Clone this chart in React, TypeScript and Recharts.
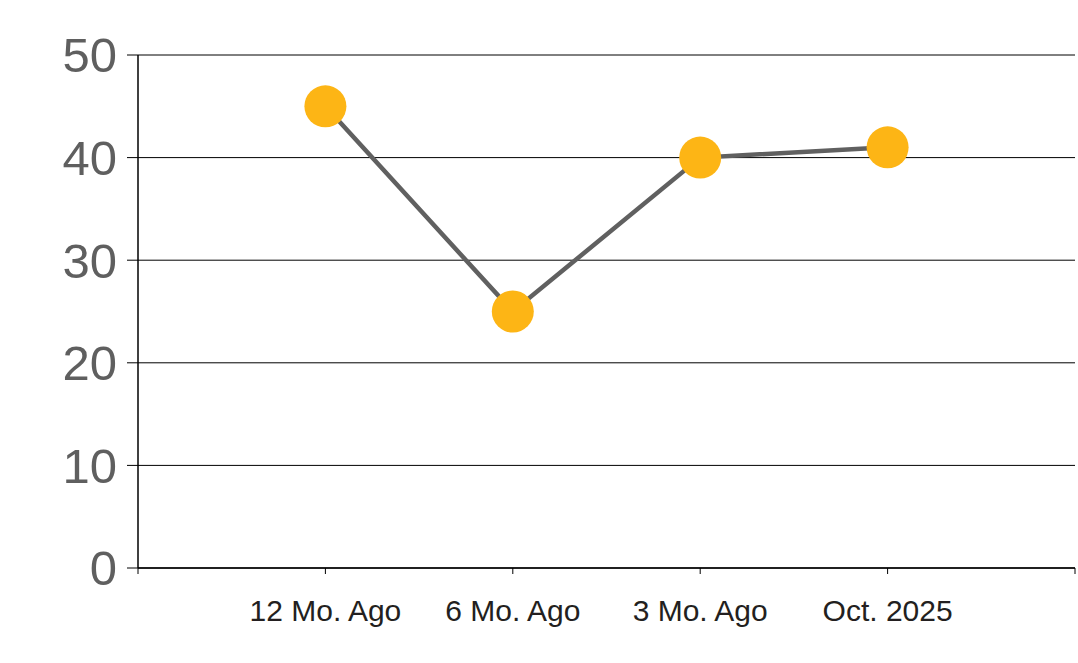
import React from 'react';
import { LineChart, Line, XAxis, YAxis, CartesianGrid } from 'recharts';

const categories = ['12 Mo. Ago', '6 Mo. Ago', '3 Mo. Ago', 'Oct. 2025'];
const values = [45, 25, 40, 41];
const yTicks = [0, 10, 20, 30, 40, 50];
const xTicks = [0, 1, 2, 3, 4, 5];

const data = categories.map((c, i) => ({ x: i + 1, name: c, value: values[i] }));

const fmtX = (v: number) => (v >= 1 && v <= categories.length ? categories[v - 1] : '');

export default function App() {
  return (
    <div style={{ position: 'absolute', left: 0, top: 0, background: '#fff' }}>
      <LineChart
        width={1078}
        height={663}
        data={data}
        margin={{ top: 55, right: 3, bottom: 0, left: 0 }}
        style={{ fontFamily: '"Liberation Sans", Arial, sans-serif' }}
      >
        <CartesianGrid vertical={false} stroke="#000" strokeWidth={1} />
        <XAxis
          dataKey="x"
          type="number"
          domain={[0, 5]}
          ticks={xTicks}
          tickFormatter={fmtX}
          interval={0}
          height={95}
          stroke="#000"
          tickSize={6}
          tickMargin={26}
          tick={{ fontSize: 30, fill: '#231f20' }}
          tickLine={{ stroke: '#000' }}
          axisLine={{ stroke: '#000', strokeWidth: 1.5 }}
        />
        <YAxis
          domain={[0, 50]}
          ticks={yTicks}
          width={138}
          tickSize={11}
          tickMargin={10}
          interval={0}
          tick={{ fontSize: 49, fill: '#5f5f5f' }}
          tickLine={{ stroke: '#000' }}
          axisLine={{ stroke: '#000', strokeWidth: 1.5 }}
        />
        <Line
          dataKey="value"
          stroke="#606060"
          strokeWidth={4.5}
          dot={{ r: 21, fill: '#FDB515', stroke: 'none' }}
          activeDot={false}
          isAnimationActive={false}
        />
      </LineChart>
    </div>
  );
}
